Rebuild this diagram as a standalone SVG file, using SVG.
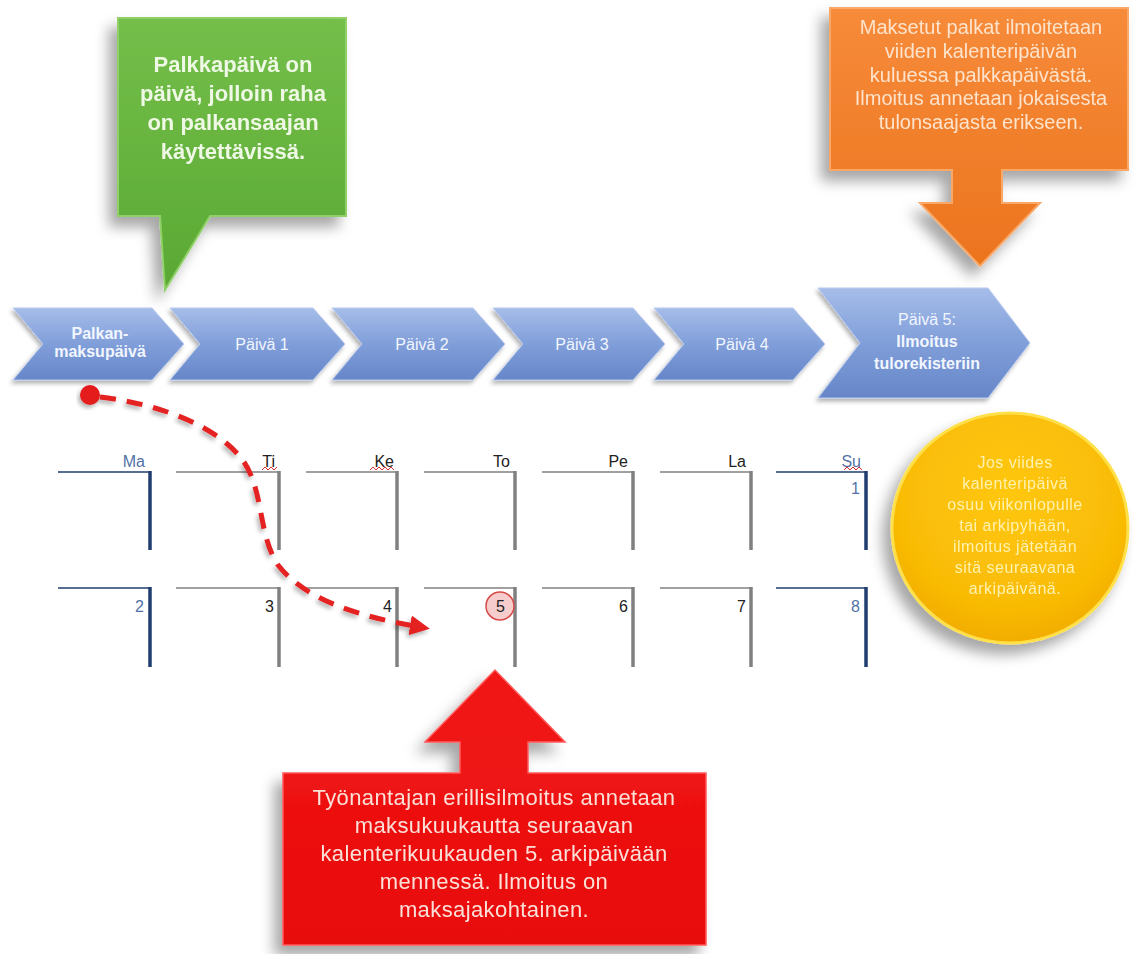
<svg xmlns="http://www.w3.org/2000/svg" width="1134" height="954" viewBox="0 0 1134 954">
<defs>
<linearGradient id="gBlue" x1="0" y1="0" x2="0" y2="1"><stop offset="0" stop-color="#a6bde9"/><stop offset="0.5" stop-color="#809ed9"/><stop offset="1" stop-color="#6686c8"/></linearGradient>
<linearGradient id="gGreen" x1="0" y1="0" x2="0" y2="1"><stop offset="0" stop-color="#74bf4a"/><stop offset="1" stop-color="#5aa834"/></linearGradient>
<linearGradient id="gOrange" x1="0" y1="0" x2="0" y2="1"><stop offset="0" stop-color="#f68b3a"/><stop offset="1" stop-color="#ec741e"/></linearGradient>
<linearGradient id="gRed" x1="0" y1="0" x2="0" y2="1"><stop offset="0" stop-color="#f21818"/><stop offset="1" stop-color="#e80a0a"/></linearGradient>
<radialGradient id="gYellow" cx="0.5" cy="0.35" r="0.7"><stop offset="0" stop-color="#ffc70a"/><stop offset="0.7" stop-color="#f9bb06"/><stop offset="1" stop-color="#f0a800"/></radialGradient>
<filter id="shadow" x="-20%" y="-20%" width="140%" height="150%"><feDropShadow dx="-8" dy="10" stdDeviation="7" flood-color="#000" flood-opacity="0.35"/></filter>
<filter id="sshadow" x="-20%" y="-20%" width="140%" height="150%"><feDropShadow dx="-2" dy="3" stdDeviation="2" flood-color="#000" flood-opacity="0.3"/></filter>
<marker id="arr" viewBox="0 0 10 10" refX="5" refY="5" markerWidth="4" markerHeight="4" orient="auto"><path d="M0,0 L10,5 L0,10 z" fill="#e42222"/></marker>
<style>
.chev{fill:url(#gBlue);stroke:#b9cbef;stroke-width:1;filter:url(#sshadow)}
.ct{font-family:"Liberation Sans",Arial,sans-serif;fill:#f2f6ff;text-anchor:middle;font-size:16px}
.cb{font-weight:bold}
.hl{stroke:#808080;stroke-width:1.5}
.vl{stroke:#808080;stroke-width:3.5}
.hb{stroke:#1f3d6e;stroke-width:1.5}
.vb{stroke:#1f3d6e;stroke-width:3.5}
.day{font-family:"Liberation Sans",Arial,sans-serif;font-size:16px;text-anchor:end;fill:#222}
.blue{fill:#5272a6}
.wv{fill:none;stroke:#d83030;stroke-width:1}
.gt{font-family:"Liberation Sans",Arial,sans-serif;font-weight:bold;font-size:22px;fill:#eef8e4;text-anchor:middle}
.ot{font-family:"Liberation Sans",Arial,sans-serif;font-size:20px;fill:#fde3cc;text-anchor:middle}
.rt{font-family:"Liberation Sans",Arial,sans-serif;font-size:22px;letter-spacing:0.4px;fill:#fbe0d8;text-anchor:middle}
.yt{font-family:"Liberation Sans",Arial,sans-serif;font-size:16px;letter-spacing:0.5px;fill:#fff2b0;text-anchor:middle}
</style>
</defs>
<rect width="1134" height="954" fill="#ffffff"/>

<g id="callout-green" filter="url(#shadow)">
<path d="M118 18 H346 V216 H210 L165 290 L160 216 H118 Z" fill="url(#gGreen)" stroke="#8fd068" stroke-width="2"/>
<text class="gt" x="233" y="72">Palkkapäivä on</text>
<text class="gt" x="233" y="101">päivä, jolloin raha</text>
<text class="gt" x="233" y="130">on palkansaajan</text>
<text class="gt" x="233" y="159">käytettävissä.</text>
</g>

<g id="callout-orange" filter="url(#shadow)">
<path d="M830 8 H1128 V170 H1002 V203 H1040 L980 266 L920 203 H952 V170 H830 Z" fill="url(#gOrange)" stroke="#f9a868" stroke-width="2"/>
<text class="ot" x="981" y="34">Maksetut palkat ilmoitetaan</text>
<text class="ot" x="981" y="58">viiden kalenteripäivän</text>
<text class="ot" x="981" y="82">kuluessa palkkapäivästä.</text>
<text class="ot" x="981" y="105">Ilmoitus annetaan jokaisesta</text>
<text class="ot" x="981" y="129">tulonsaajasta erikseen.</text>
</g>

<g id="chevrons">
<g id="chev-0"><polygon class="chev" points="13,308 152,308 184,344 152,380 13,380 43,344"/><text class="ct cb" x="100" y="339" font-size="13">Palkan-</text><text class="ct cb" x="100" y="357" font-size="13">maksupäivä</text></g>
<g id="chev-1"><polygon class="chev" points="170,308 313,308 345,344 313,380 170,380 200,344"/><text class="ct" x="262" y="350">Päivä 1</text></g>
<g id="chev-2"><polygon class="chev" points="332,308 473,308 505,344 473,380 332,380 362,344"/><text class="ct" x="422" y="350">Päivä 2</text></g>
<g id="chev-3"><polygon class="chev" points="493,308 633,308 665,344 633,380 493,380 523,344"/><text class="ct" x="582" y="350">Päivä 3</text></g>
<g id="chev-4"><polygon class="chev" points="654,308 793,308 825,344 793,380 654,380 684,344"/><text class="ct" x="742" y="350">Päivä 4</text></g>
<g id="chev-5"><polygon class="chev" points="818,288 988,288 1030,343 988,398 818,398 860,343"/><text class="ct" x="927" y="325">Päivä 5:</text><text class="ct cb" x="927" y="347">Ilmoitus</text><text class="ct cb" x="927" y="369">tulorekisteriin</text></g>
</g>

<g id="calendar">
<line class="hb" x1="58" y1="472" x2="151" y2="472"/><line class="vb" x1="150" y1="471" x2="150" y2="550"/>
<line class="hl" x1="176" y1="472" x2="280" y2="472"/><line class="vl" x1="279" y1="471" x2="279" y2="550"/>
<line class="hl" x1="306" y1="472" x2="398" y2="472"/><line class="vl" x1="397" y1="471" x2="397" y2="550"/>
<line class="hl" x1="424" y1="472" x2="516" y2="472"/><line class="vl" x1="515" y1="471" x2="515" y2="550"/>
<line class="hl" x1="542" y1="472" x2="634" y2="472"/><line class="vl" x1="633" y1="471" x2="633" y2="550"/>
<line class="hl" x1="660" y1="472" x2="752" y2="472"/><line class="vl" x1="751" y1="471" x2="751" y2="550"/>
<line class="hb" x1="776" y1="472" x2="867" y2="472"/><line class="vb" x1="866" y1="471" x2="866" y2="550"/>

<line class="hb" x1="58" y1="588" x2="151" y2="588"/><line class="vb" x1="150" y1="587" x2="150" y2="667"/>
<line class="hl" x1="176" y1="588" x2="280" y2="588"/><line class="vl" x1="279" y1="587" x2="279" y2="667"/>
<line class="hl" x1="306" y1="588" x2="398" y2="588"/><line class="vl" x1="397" y1="587" x2="397" y2="667"/>
<line class="hl" x1="424" y1="588" x2="516" y2="588"/><line class="vl" x1="515" y1="587" x2="515" y2="667"/>
<line class="hl" x1="542" y1="588" x2="634" y2="588"/><line class="vl" x1="633" y1="587" x2="633" y2="667"/>
<line class="hl" x1="660" y1="588" x2="752" y2="588"/><line class="vl" x1="751" y1="587" x2="751" y2="667"/>
<line class="hb" x1="776" y1="588" x2="867" y2="588"/><line class="vb" x1="866" y1="587" x2="866" y2="667"/>

<text class="day blue" x="145" y="467">Ma</text>
<text class="day" x="275" y="467">Ti</text>
<text class="day" x="394" y="467">Ke</text>
<text class="day" x="510" y="467">To</text>
<text class="day" x="628" y="467">Pe</text>
<text class="day" x="746" y="467">La</text>
<text class="day blue" x="861" y="467">Su</text>
<path class="wv" d="M262 470 l3 -3 l3 3 l3 -3 l3 3 l3 -3"/>
<path class="wv" d="M370 470 l3 -3 l3 3 l3 -3 l3 3 l3 -3 l3 3 l3 -3 l3 3"/>
<path class="wv" d="M844 470 l3 -3 l3 3 l3 -3 l3 3 l3 -3 l3 3"/>

<text class="day blue" x="860" y="494">1</text>
<circle cx="500" cy="606" r="14" fill="#f6cccc" stroke="#d84848" stroke-width="1.5"/>
<text class="day blue" x="144" y="612">2</text>
<text class="day" x="274" y="612">3</text>
<text class="day" x="392" y="612">4</text>
<text class="day" x="505" y="612">5</text>
<text class="day" x="628" y="612">6</text>
<text class="day" x="746" y="612">7</text>
<text class="day blue" x="860" y="612">8</text>
</g>

<g id="connectors">
<path d="M100 397 C165 405 220 428 244 462 C264 492 258 535 278 565 C305 600 360 617 420 627" fill="none" stroke="#e42222" stroke-width="5" stroke-dasharray="16 11" marker-end="url(#arr)" filter="url(#sshadow)"/>
<circle cx="90" cy="395" r="10" fill="#e41b1b" filter="url(#sshadow)"/>
</g>

<g id="callout-yellow" filter="url(#shadow)">
<ellipse cx="1010" cy="528" rx="118" ry="115" fill="url(#gYellow)" stroke="#ffe04a" stroke-width="3"/>
<text class="yt" x="1015" y="468">Jos viides</text>
<text class="yt" x="1015" y="489">kalenteripäivä</text>
<text class="yt" x="1015" y="510">osuu viikonlopulle</text>
<text class="yt" x="1015" y="531">tai arkipyhään,</text>
<text class="yt" x="1015" y="552">ilmoitus jätetään</text>
<text class="yt" x="1015" y="573">sitä seuraavana</text>
<text class="yt" x="1015" y="594">arkipäivänä.</text>
</g>

<g id="callout-red" filter="url(#shadow)">
<path d="M283 773 H460 V742 H425 L495 670 L565 742 H528 V773 H706 V945 H283 Z" fill="url(#gRed)" stroke="#ff5a5a" stroke-width="1.5"/>
<text class="rt" x="494" y="805">Työnantajan erillisilmoitus annetaan</text>
<text class="rt" x="494" y="833">maksukuukautta seuraavan</text>
<text class="rt" x="494" y="861">kalenterikuukauden 5. arkipäivään</text>
<text class="rt" x="494" y="889">mennessä. Ilmoitus on</text>
<text class="rt" x="494" y="917">maksajakohtainen.</text>
</g>
</svg>
